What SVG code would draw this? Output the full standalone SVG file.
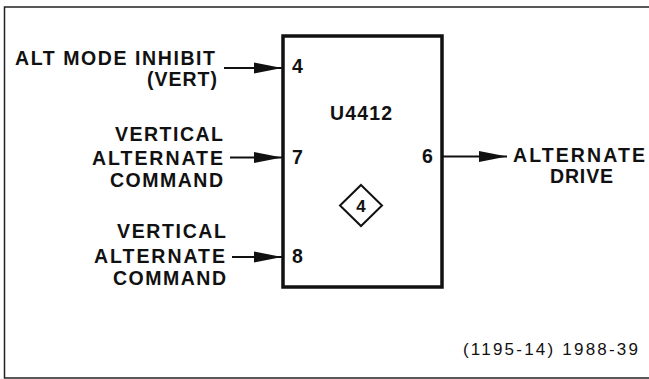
<svg xmlns="http://www.w3.org/2000/svg" width="649" height="379" viewBox="0 0 649 379">
<style>
.t{font-family:"Liberation Sans",Arial,sans-serif;font-weight:bold;font-size:19.5px;fill:#111}
.r{text-anchor:end}
.c{text-anchor:middle}
.n{font-family:"Liberation Sans",Arial,sans-serif;font-size:17px;fill:#111}
.w{stroke:#111;stroke-width:2;fill:none}
</style>
<defs>
<marker id="ah" viewBox="0 0 28 12" refX="28" refY="6" markerWidth="28" markerHeight="12" markerUnits="userSpaceOnUse" orient="auto">
<path d="M0,0.5 L28,6 L0,11.5 Z" fill="#111"/>
</marker>
</defs>
<rect x="0" y="0" width="649" height="379" fill="#fff"/>
<rect x="4.5" y="7" width="660" height="371" fill="none" stroke="#222" stroke-width="1.5"/>
<g id="u4412">
<rect x="283" y="36" width="159" height="251" fill="none" stroke="#111" stroke-width="3.5"/>
<text class="t" x="330" y="120" textLength="62" lengthAdjust="spacing">U4412</text>
<text class="t" x="292" y="73">4</text>
<text class="t" x="292" y="164">7</text>
<text class="t" x="292" y="263">8</text>
<text class="t" x="422" y="163">6</text>
<path d="M361,185 L382,205.5 L361,226 L340,205.5 Z" fill="#fff" stroke="#111" stroke-width="2"/>
<text class="t c" x="361" y="212" style="font-size:17px">4</text>
</g>
<g id="in4">
<text class="t" x="15" y="65" textLength="200" lengthAdjust="spacing">ALT MODE INHIBIT</text>
<text class="t" x="147" y="86" textLength="70" lengthAdjust="spacing">(VERT)</text>
</g>
<g id="in7">
<text class="t" x="115" y="141" textLength="108" lengthAdjust="spacing">VERTICAL</text>
<text class="t" x="92" y="165" textLength="131" lengthAdjust="spacing">ALTERNATE</text>
<text class="t" x="110" y="187" textLength="113" lengthAdjust="spacing">COMMAND</text>
</g>
<g id="in8">
<text class="t" x="117" y="238" textLength="109" lengthAdjust="spacing">VERTICAL</text>
<text class="t" x="94" y="263" textLength="131" lengthAdjust="spacing">ALTERNATE</text>
<text class="t" x="113" y="285" textLength="113" lengthAdjust="spacing">COMMAND</text>
</g>
<g id="out6">
<text class="t" x="513" y="162" textLength="132" lengthAdjust="spacing">ALTERNATE</text>
<text class="t" x="550" y="183" textLength="63" lengthAdjust="spacing">DRIVE</text>
</g>
<g id="connectors">
<line class="w" x1="224" y1="68" x2="282" y2="68" marker-end="url(#ah)"/>
<line class="w" x1="230" y1="157.5" x2="282" y2="157.5" marker-end="url(#ah)"/>
<line class="w" x1="232" y1="257" x2="282" y2="257" marker-end="url(#ah)"/>
<line class="w" x1="443" y1="156.5" x2="507" y2="156.5" marker-end="url(#ah)"/>
</g>
<text class="n" x="463" y="355" textLength="175" lengthAdjust="spacing">(1195-14) 1988-39</text>
</svg>
